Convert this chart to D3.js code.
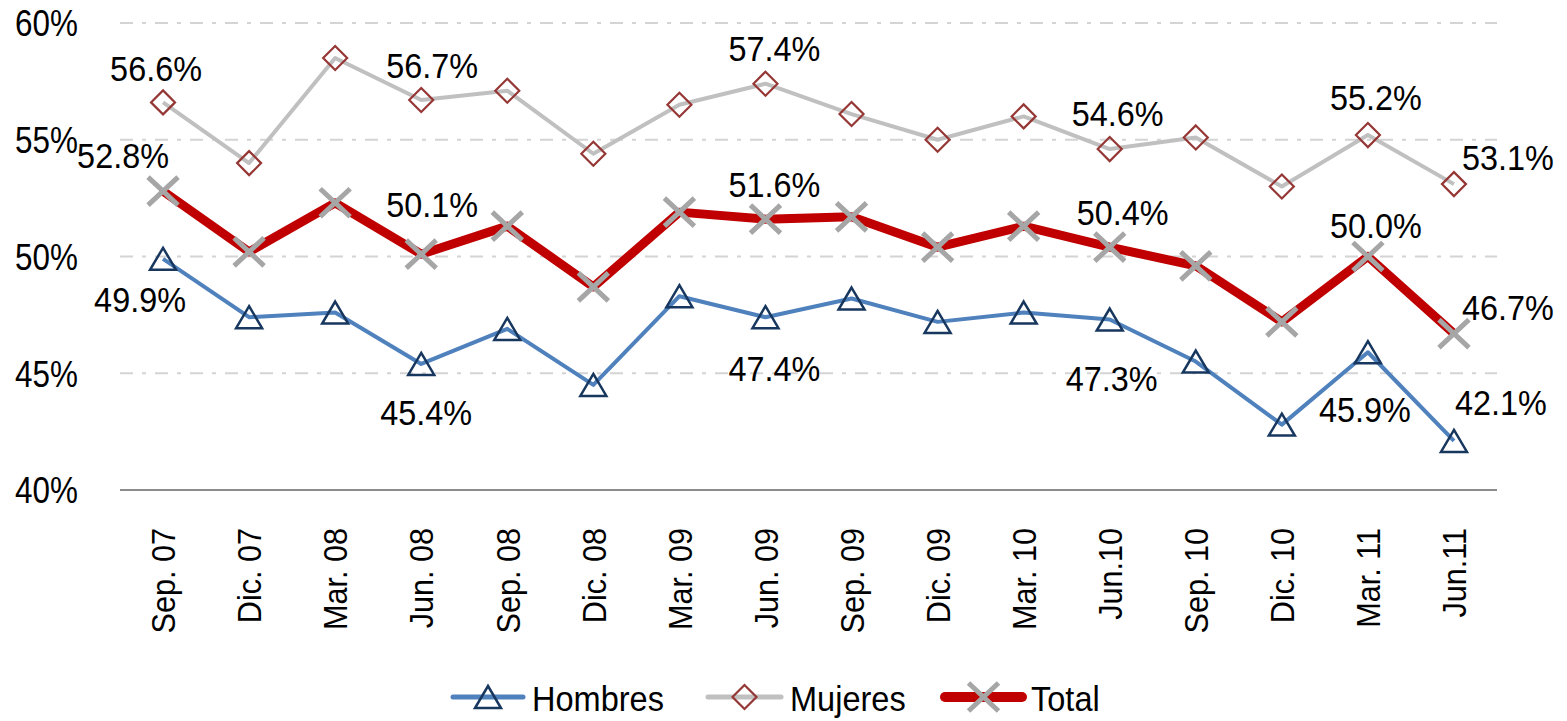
<!DOCTYPE html>
<html><head><meta charset="utf-8">
<script src="https://cdn.jsdelivr.net/npm/d3@7"></script>
<style>
html,body{margin:0;padding:0;background:#fff;}
svg text{font-family:"Liberation Sans",Arial,sans-serif;fill:#000;}
</style></head>
<body>
<svg id="chart" width="1567" height="721"></svg>
<script>
const categories = ["Sep. 07","Dic. 07","Mar. 08","Jun. 08","Sep. 08","Dic. 08","Mar. 09","Jun. 09","Sep. 09","Dic. 09","Mar. 10","Jun.10","Sep. 10","Dic. 10","Mar. 11","Jun.11"];
const hombres = [49.9,47.4,47.6,45.4,46.9,44.5,48.3,47.4,48.2,47.2,47.6,47.3,45.5,42.8,45.9,42.1];
const mujeres = [56.6,54.0,58.5,56.7,57.1,54.4,56.5,57.4,56.1,55.0,56.0,54.6,55.1,53.0,55.2,53.1];
const total   = [52.8,50.2,52.3,50.1,51.3,48.7,51.9,51.6,51.7,50.4,51.3,50.4,49.6,47.2,50.0,46.7];
const yTicks = [40,45,50,55,60];
const labeledIdx = [0,3,7,11,14,15];

// label offsets (layout only)
const labelOffsets = {
  Mujeres: {0:[-7,-34],3:[11,-35],7:[9,-36],11:[8,-36],14:[8,-38],15:[54,-27]},
  Total:   {0:[-40,-36],3:[11,-50],7:[9,-35],11:[13,-35],14:[8,-31],15:[54,-27]},
  Hombres: {0:[-23,40],3:[5,48],7:[9,51],11:[2,58],14:[-3,57],15:[47,-39]}
};

const SX = 0.9; // horizontal condensing of the narrow font
const svg = d3.select("#chart");
const W=1567, H=721;
const m = {left:120, right:70, top:23, bottom:231};
const x = d3.scaleBand().domain(categories).range([m.left, W-m.right]);
const y = d3.scaleLinear().domain([40,60]).range([H-m.bottom, m.top]);
const cx = d => x(d)+x.bandwidth()/2;

// gridlines
svg.append("g").selectAll("line").data(yTicks.filter(t=>t>40)).join("line")
  .attr("x1",m.left).attr("x2",W-m.right)
  .attr("y1",d=>y(d)).attr("y2",d=>y(d))
  .attr("stroke","#d4d4d4").attr("stroke-width",2)
  .attr("stroke-dasharray","13,9,4,9");
// baseline
svg.append("line").attr("x1",m.left).attr("x2",W-m.right)
  .attr("y1",y(40)).attr("y2",y(40)).attr("stroke","#8c8c8c").attr("stroke-width",2);

// y axis labels
const yAxis = d3.axisLeft(y).tickValues(yTicks).tickFormat(d=>d+"%").tickSize(0).tickPadding(0);
const ga = svg.append("g").attr("transform",`translate(78,0)`).call(yAxis);
ga.select(".domain").remove();
ga.attr("font-family",null).attr("font-size",null);
ga.selectAll("text").attr("font-size",36).attr("x",0).attr("dy","0.36em")
  .attr("transform",`scale(${SX*0.97},1)`);

// x labels
const xAxis = d3.axisBottom(x).tickSize(0).tickPadding(0);
const gx = svg.append("g").attr("transform",`translate(0,${y(40)})`).call(xAxis);
gx.select(".domain").remove();
gx.attr("font-family",null).attr("font-size",null);
gx.selectAll("text").attr("font-size",34)
  .attr("transform",`rotate(-90) scale(${SX},1)`)
  .attr("text-anchor","end")
  .attr("x",-38/SX).attr("y",0).attr("dy","0.36em");

const line = d3.line().x((d,i)=>cx(categories[i])).y(d=>y(d));

// series
const series = [
  {name:"Mujeres", data:mujeres, color:"#c0c0c0", width:4, marker:"diamond"},
  {name:"Total", data:total, color:"#c00000", width:9, marker:"x"},
  {name:"Hombres", data:hombres, color:"#4f81bd", width:4, marker:"triangle"}
];
const markerDraw = {
  diamond: (g)=> g.append("path").attr("d","M0,-12L12,0L0,12L-12,0Z").attr("fill","none").attr("stroke","#953735").attr("stroke-width",2.2),
  triangle:(g)=> g.append("path").attr("d","M0,-11L13,11L-13,11Z").attr("fill","none").attr("stroke","#17375e").attr("stroke-width",2.5).attr("stroke-linejoin","miter"),
  x: (g)=> g.append("path").attr("d","M-15,-14L15,14M-15,14L15,-14").attr("stroke","#a6a6a6").attr("stroke-width",5).attr("fill","none")
};
series.forEach(s=>{
  svg.append("path").datum(s.data).attr("d",line).attr("fill","none")
    .attr("stroke",s.color).attr("stroke-width",s.width).attr("stroke-linejoin","round");
  const mg = svg.append("g");
  s.data.forEach((v,i)=>{
    const g = mg.append("g").attr("transform",`translate(${cx(categories[i])},${y(v)})`);
    markerDraw[s.marker](g);
  });
});
// labels
series.forEach(s=>{
  labeledIdx.forEach(i=>{
    const o = labelOffsets[s.name][i];
    const px = cx(categories[i])+o[0], py = y(s.data[i])+o[1];
    svg.append("text").attr("transform",`translate(${px},${py}) scale(${SX},1)`)
      .attr("text-anchor","middle").attr("dy","0.36em").attr("font-size",36)
      .text(s.data[i].toFixed(1)+"%");
  });
});

// legend
const legend = [
  {name:"Hombres", s:series[2], x1:453, x2:523},
  {name:"Mujeres", s:series[0], x1:708, x2:781},
  {name:"Total", s:series[1], x1:945, x2:1022}
];
const ly = 697;
legend.forEach(l=>{
  svg.append("line").attr("x1",l.x1).attr("x2",l.x2).attr("y1",ly).attr("y2",ly)
    .attr("stroke",l.s.color).attr("stroke-width",l.s.name==="Total"?10:5).attr("stroke-linecap","round");
  const g = svg.append("g").attr("transform",`translate(${(l.x1+l.x2)/2},${ly})`);
  markerDraw[l.s.marker](g);
  svg.append("text").attr("transform",`translate(${l.x2+9},${ly+1}) scale(0.93,1)`)
    .attr("dy","0.36em").attr("font-size",35).text(l.name);
});
</script>
</body></html>
